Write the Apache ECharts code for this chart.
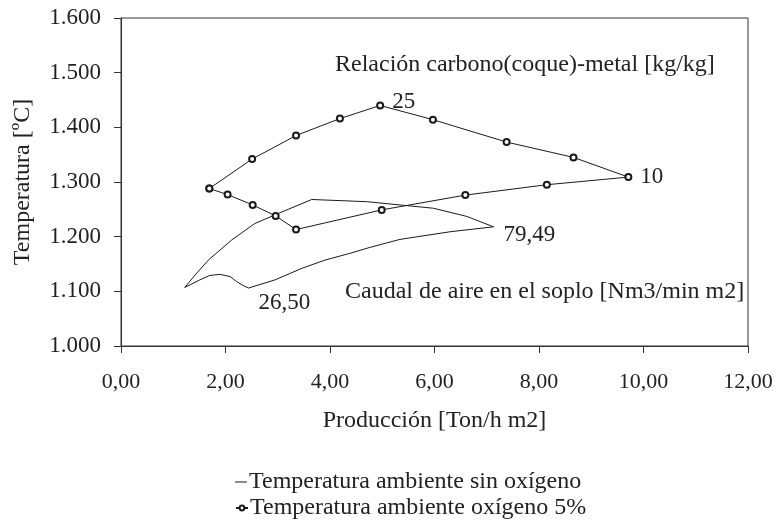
<!DOCTYPE html>
<html>
<head>
<meta charset="utf-8">
<script src="https://cdn.jsdelivr.net/npm/echarts@6/dist/echarts.min.js"></script>
<style>
  html, body { margin: 0; padding: 0; background: #fff; }
  #chart { width: 778px; height: 521px; }
</style>
</head>
<body>
<div id="chart"></div>
<script>
// datos
var serieNombres = ['Temperatura ambiente sin oxígeno', 'Temperatura ambiente oxígeno 5%'];

// Temperatura ambiente sin oxigeno (curva cerrada)
var sinOxigeno = [
  [1.22, 1107], [1.51, 1121], [1.70, 1129], [1.89, 1131], [2.09, 1127], [2.21, 1118], [2.33, 1111], [2.44, 1106],
  [2.95, 1121], [3.46, 1142], [3.90, 1157], [4.40, 1170], [4.75, 1180], [5.34, 1195], [6.30, 1209], [7.13, 1218],
  [6.62, 1237], [5.98, 1252], [5.34, 1258], [4.70, 1264], [3.65, 1268], [2.95, 1240], [2.56, 1224], [2.12, 1194],
  [1.67, 1157], [1.42, 1130], [1.22, 1107]
];

// Temperatura ambiente oxigeno 5%
var conOxigeno = [
  [1.69, 1288], [2.04, 1277], [2.52, 1258], [2.96, 1238], [3.35, 1213],
  [4.99, 1249], [6.59, 1276], [8.15, 1295], [9.71, 1309],
  [8.66, 1345], [7.38, 1373], [5.97, 1414], [4.96, 1440], [4.19, 1416], [3.35, 1385], [2.51, 1342], [1.69, 1288]
];

// etiquetas de puntos: [serie, indice, texto]
var etiquetas = [
  [1, 12, '25'],
  [1, 8, '10'],
  [0, 15, '79,49'],
  [0, 7, '26,50']
];
var textosCurvas = ['Relación carbono(coque)-metal [kg/kg]', 'Caudal de aire en el soplo [Nm3/min m2]'];

var FUENTE = '"Liberation Serif", "Times New Roman", serif';
var TXT = '#222';
var TAM = 24;

function conEtiquetas(datos, serie) {
  return datos.map(function (p, i) {
    var e = null;
    etiquetas.forEach(function (t) { if (t[0] === serie && t[1] === i) e = t[2]; });
    if (!e) return p;
    var off = [0, 0];
    if (e === '25') off = [0, -4];
    if (e === '79,49') off = [2, 8];
    if (e === '26,50') off = [2, 15];
    return {
      value: p,
      label: { show: true, position: 'right', distance: 8, offset: off, formatter: e,
        fontFamily: FUENTE, fontSize: TAM - 1, color: TXT }
    };
  });
}

var myChart = echarts.init(document.getElementById('chart'));

var option = {
  animation: false,
  textStyle: { fontFamily: FUENTE },
  grid: { left: 121, right: 30, top: 18, bottom: 175, show: true, borderColor: '#333', borderWidth: 1 },
  xAxis: {
    type: 'value', min: 0, max: 12, interval: 2,
    name: 'Producción [Ton/h m2]', nameLocation: 'middle', nameGap: 63,
    nameTextStyle: { fontFamily: FUENTE, fontSize: TAM, color: TXT },
    axisLine: { show: true, lineStyle: { color: '#333' } },
    axisTick: { show: true, inside: false, length: 7, lineStyle: { color: '#333' } },
    axisLabel: { fontFamily: FUENTE, fontSize: 22, color: TXT, margin: 25,
      formatter: function (v) { return v.toFixed(2).replace('.', ','); } },
    splitLine: { show: false }
  },
  yAxis: {
    type: 'value', min: 1000, max: 1600, interval: 100,
    name: 'Temperatura [ºC]', nameLocation: 'middle', nameGap: 86, nameRotate: 90,
    nameTextStyle: { fontFamily: FUENTE, fontSize: TAM, color: TXT },
    axisLine: { show: true, lineStyle: { color: '#333' } },
    axisTick: { show: true, length: 7, lineStyle: { color: '#333' } },
    axisLabel: { fontFamily: FUENTE, fontSize: 23, color: TXT, margin: 20,
      formatter: function (v) { return String(v).replace(/(\d)(\d{3})$/, '$1.$2'); } },
    splitLine: { show: false }
  },
  legend: [
    {
      left: 235, top: 470, padding: 0, itemWidth: 12, itemHeight: 1, icon: 'rect',
      textStyle: { fontFamily: FUENTE, fontSize: TAM, color: TXT, padding: [0, 0, 0, -3] },
      data: [serieNombres[0]]
    },
    {
      left: 235, top: 496, padding: 0, itemWidth: 12, itemHeight: 6,
      textStyle: { fontFamily: FUENTE, fontSize: TAM, color: TXT, padding: [0, 0, 0, -3] },
      data: [serieNombres[1]]
    }
  ],
  graphic: [
    { type: 'text', left: 335, top: 53, style: { text: textosCurvas[0], font: TAM + 'px ' + FUENTE, fill: TXT } },
    { type: 'text', left: 345, top: 280, style: { text: textosCurvas[1], font: TAM + 'px ' + FUENTE, fill: TXT } }
  ],
  series: [
    {
      name: serieNombres[0], type: 'line', data: conEtiquetas(sinOxigeno, 0),
      showSymbol: true, symbol: 'circle', symbolSize: 0, lineStyle: { color: '#1a1a1a', width: 1 },
      itemStyle: { color: '#1a1a1a' }
    },
    {
      name: serieNombres[1], type: 'line', data: conEtiquetas(conOxigeno, 1),
      symbol: 'emptyCircle', symbolSize: 6, lineStyle: { color: '#1a1a1a', width: 1 },
      itemStyle: { color: '#1a1a1a', borderWidth: 1 }
    }
  ]
};

myChart.setOption(option);
</script>
</body>
</html>
